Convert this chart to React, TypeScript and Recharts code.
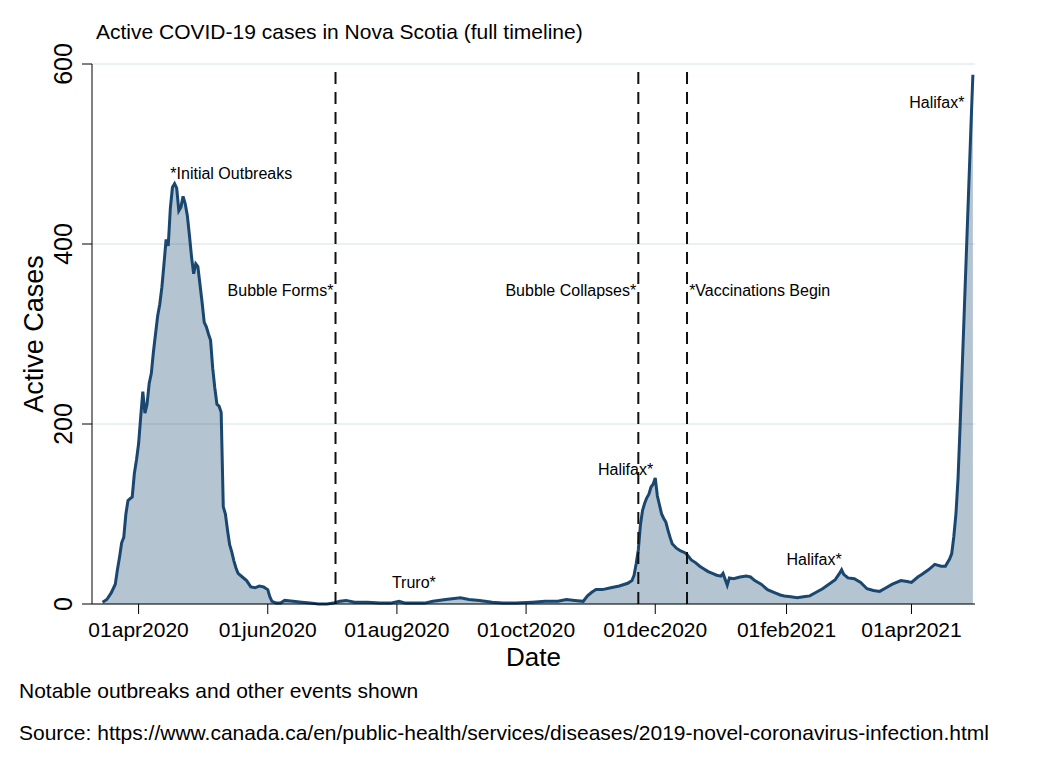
import { ComposedChart, Area, XAxis, YAxis, CartesianGrid, ReferenceLine, ReferenceDot } from "recharts";

const NAVY = "#1a476f";
const FONT = "'Liberation Sans', Arial, sans-serif";

// daily active cases (one line per month)
const dates = [
  "2020-03-15", "2020-03-17", "2020-03-19", "2020-03-21", "2020-03-22", "2020-03-23", "2020-03-24", "2020-03-25", "2020-03-26", "2020-03-27", "2020-03-28", "2020-03-29", "2020-03-30", "2020-03-31",
  "2020-04-01", "2020-04-02", "2020-04-03", "2020-04-04", "2020-04-05", "2020-04-06", "2020-04-07", "2020-04-08", "2020-04-09", "2020-04-10", "2020-04-11", "2020-04-12", "2020-04-13", "2020-04-14", "2020-04-15", "2020-04-16", "2020-04-17", "2020-04-18", "2020-04-19", "2020-04-20", "2020-04-21", "2020-04-22", "2020-04-23", "2020-04-24", "2020-04-25", "2020-04-26", "2020-04-27", "2020-04-28", "2020-04-29", "2020-04-30",
  "2020-05-01", "2020-05-02", "2020-05-03", "2020-05-04", "2020-05-05", "2020-05-06", "2020-05-07", "2020-05-08", "2020-05-09", "2020-05-10", "2020-05-11", "2020-05-12", "2020-05-13", "2020-05-14", "2020-05-15", "2020-05-16", "2020-05-17", "2020-05-18", "2020-05-20", "2020-05-22", "2020-05-24", "2020-05-26", "2020-05-28", "2020-05-30",
  "2020-06-01", "2020-06-02", "2020-06-03", "2020-06-05", "2020-06-07", "2020-06-09", "2020-06-13", "2020-06-17", "2020-06-21", "2020-06-25", "2020-06-29",
  "2020-07-02", "2020-07-05", "2020-07-08", "2020-07-12", "2020-07-18", "2020-07-24", "2020-07-29",
  "2020-08-02", "2020-08-05", "2020-08-10", "2020-08-14", "2020-08-18", "2020-08-24", "2020-08-31",
  "2020-09-04", "2020-09-09", "2020-09-15", "2020-09-20", "2020-09-26",
  "2020-10-04", "2020-10-10", "2020-10-16", "2020-10-20", "2020-10-24", "2020-10-28", "2020-10-30",
  "2020-11-01", "2020-11-03", "2020-11-06", "2020-11-10", "2020-11-14", "2020-11-18", "2020-11-20", "2020-11-21", "2020-11-22", "2020-11-23", "2020-11-24", "2020-11-25", "2020-11-26", "2020-11-27", "2020-11-28", "2020-11-29", "2020-11-30",
  "2020-12-01", "2020-12-02", "2020-12-03", "2020-12-04", "2020-12-05", "2020-12-06", "2020-12-07", "2020-12-08", "2020-12-09", "2020-12-11", "2020-12-13", "2020-12-15", "2020-12-16", "2020-12-18", "2020-12-20", "2020-12-22", "2020-12-24", "2020-12-26", "2020-12-28", "2020-12-30",
  "2021-01-01", "2021-01-02", "2021-01-04", "2021-01-05", "2021-01-07", "2021-01-10", "2021-01-13", "2021-01-15", "2021-01-17", "2021-01-20", "2021-01-23", "2021-01-26", "2021-01-29", "2021-01-31",
  "2021-02-03", "2021-02-06", "2021-02-09", "2021-02-12", "2021-02-15", "2021-02-18", "2021-02-21", "2021-02-24", "2021-02-26", "2021-02-27", "2021-02-28",
  "2021-03-02", "2021-03-05", "2021-03-08", "2021-03-11", "2021-03-14", "2021-03-17", "2021-03-20", "2021-03-23", "2021-03-27", "2021-03-30",
  "2021-04-01", "2021-04-04", "2021-04-06", "2021-04-09", "2021-04-12", "2021-04-15", "2021-04-17", "2021-04-19", "2021-04-20", "2021-04-21", "2021-04-22", "2021-04-23", "2021-04-24", "2021-04-25", "2021-04-26", "2021-04-27", "2021-04-28", "2021-04-29", "2021-04-30",
];

const active = [
  2, 5, 12, 22, 38, 52, 68, 74, 100, 115, 117, 119, 145, 160,
  178, 208, 236, 212, 222, 245, 256, 280, 300, 320, 333, 352, 378, 405, 398, 440, 463, 467, 462, 437, 441, 453, 445, 432, 410, 386, 367, 378, 375, 355,
  335, 313, 308, 300, 293, 262, 240, 222, 220, 213, 108, 100, 82, 66, 58, 48, 40, 34, 30, 26, 19, 18, 20, 19,
  16, 8, 3, 1, 1, 4, 3, 2, 1, 0, 0,
  1, 3, 4, 2, 2, 1, 1,
  3, 1, 1, 1, 3, 5, 7,
  5, 4, 2, 1, 1,
  2, 3, 3, 5, 4, 3, 9,
  13, 16, 16, 18, 20, 23, 26, 32, 45, 60, 88, 104, 112, 118, 122, 130, 133,
  140, 120, 110, 100, 95, 91, 82, 74, 67, 62, 59, 57, 55, 49, 46, 42, 39, 36, 34, 32,
  31, 34, 21, 29, 28, 30, 31, 30, 26, 22, 16, 13, 10, 9,
  8, 7, 8, 9, 13, 17, 22, 27, 34, 38, 33,
  29, 28, 24, 17, 15, 14, 18, 22, 26, 25,
  24, 30, 33, 38, 44, 42, 42, 50, 56, 75, 100, 140, 200, 265, 330, 395, 460, 525, 588,
];

const tickDates = ["2020-04-01", "2020-06-01", "2020-08-01", "2020-10-01", "2020-12-01", "2021-02-01", "2021-04-01"];
const yTicks = [0, 200, 400, 600];

// events shown as dashed vertical lines
const eventDates = ["2020-07-03", "2020-11-23", "2020-12-16"];

// text notes on the plot
const noteText = ["*Initial Outbreaks", "Bubble Forms*", "Bubble Collapses*", "*Vaccinations Begin", "Halifax*", "Truro*", "Halifax*", "Halifax*"];
const noteDates = ["2020-04-16", "2020-07-02", "2020-11-22", "2020-12-17", "2020-11-17", "2020-08-09", "2021-02-14", "2021-04-26"];
const noteValues = [478, 348, 348, 348, 150, 24, 50, 557];
const noteAnchor = ["start", "end", "end", "start", "middle", "middle", "middle", "end"];

const MONTHS = ["jan", "feb", "mar", "apr", "may", "jun", "jul", "aug", "sep", "oct", "nov", "dec"];
const fmtDate = (t: number) => {
  const d = new Date(t);
  return `${String(d.getUTCDate()).padStart(2, "0")}${MONTHS[d.getUTCMonth()]}${d.getUTCFullYear()}`;
};

const data = dates.map((d, i) => ({ t: Date.parse(d), v: active[i] }));

const YTick = ({ y, payload }: any) => (
  <text x={72} y={y} transform={`rotate(-90, 72, ${y})`} textAnchor="middle" fontSize={25} fontFamily={FONT} fill="#000">
    {payload.value}
  </text>
);

export default function App() {
  return (
    <div style={{ position: "absolute", left: 0, top: 0, width: 1050, height: 764, background: "#fff", fontFamily: FONT }}>
      <div style={{ position: "absolute", left: 96, top: 21, fontSize: 21, lineHeight: "21px", whiteSpace: "nowrap" }}>
        Active COVID-19 cases in Nova Scotia (full timeline)
      </div>
      <ComposedChart width={1050} height={764} data={data} margin={{ top: 64, right: 75, bottom: 100, left: 0 }}>
        <CartesianGrid horizontal vertical={false} stroke="#e4ecef" strokeWidth={1.5} />
        <XAxis
          dataKey="t"
          type="number"
          domain={[Date.parse("2020-03-10"), Date.parse("2021-05-01")]}
          allowDataOverflow
          ticks={tickDates.map((d) => Date.parse(d))}
          tickFormatter={fmtDate}
          tickSize={10}
          tickMargin={8}
          height={60}
          stroke="#000"
          tick={{ fontSize: 21, fill: "#000", fontFamily: FONT }}
          label={({ viewBox }: any) => (
            <text x={viewBox.x + viewBox.width / 2} y={viewBox.y + 53} textAnchor="middle" dominantBaseline="central" fontSize={26} fontFamily={FONT} fill="#000">
              Date
            </text>
          )}
        />
        <YAxis
          type="number"
          domain={[0, 600]}
          ticks={yTicks}
          width={92}
          tickSize={10}
          stroke="#000"
          tick={<YTick />}
          label={({ viewBox }: any) => (
            <text x={43} y={viewBox.y + viewBox.height / 2} transform={`rotate(-90, 43, ${viewBox.y + viewBox.height / 2})`} textAnchor="middle" fontSize={27} fontFamily={FONT} fill="#000">
              Active Cases
            </text>
          )}
        />
        <Area
          type="linear"
          dataKey="v"
          stroke={NAVY}
          strokeWidth={3}
          fill={NAVY}
          fillOpacity={0.32}
          isAnimationActive={false}
          dot={false}
          activeDot={false}
        />
        {eventDates.map((d) => (
          <ReferenceLine key={d} x={Date.parse(d)} stroke="#111" strokeWidth={2} strokeDasharray="12 8" />
        ))}
        {noteText.map((txt, i) => (
          <ReferenceDot
            key={i}
            x={Date.parse(noteDates[i])}
            y={noteValues[i]}
            r={0}
            shape={(p: any) => (
              <text x={p.cx} y={p.cy} textAnchor={noteAnchor[i]} dominantBaseline="central" fontSize={16} fontFamily={FONT} fill="#000">
                {txt}
              </text>
            )}
          />
        ))}
      </ComposedChart>
      <div style={{ position: "absolute", left: 19, top: 680, fontSize: 21, lineHeight: "21px", whiteSpace: "nowrap" }}>
        Notable outbreaks and other events shown
      </div>
      <div style={{ position: "absolute", left: 19, top: 722, fontSize: 21, lineHeight: "21px", whiteSpace: "nowrap" }}>
        Source: https://www.canada.ca/en/public-health/services/diseases/2019-novel-coronavirus-infection.html
      </div>
    </div>
  );
}
